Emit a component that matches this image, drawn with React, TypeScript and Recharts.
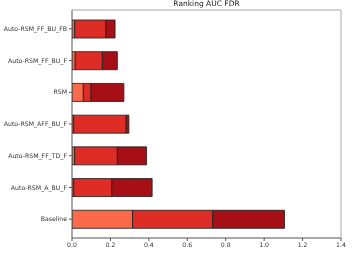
import { BarChart, Bar, XAxis, YAxis } from "recharts";

// categories, top to bottom
const METHODS = [
  "Auto-RSM_FF_BU_FB",
  "Auto-RSM_FF_BU_F",
  "RSM",
  "Auto-RSM_AFF_BU_F",
  "Auto-RSM_FF_TD_F",
  "Auto-RSM_A_BU_F",
  "Baseline",
];

// stacked segment lengths
const PART_A = [0.014, 0.017, 0.059, 0.009, 0.014, 0.009, 0.315];
const PART_B = [0.162, 0.141, 0.04, 0.273, 0.222, 0.198, 0.417];
const PART_C = [0.048, 0.078, 0.171, 0.014, 0.152, 0.21, 0.374];

const X_TICKS = [0, 0.2, 0.4, 0.6, 0.8, 1.0, 1.2, 1.4];

const COLORS = ["#fb6a4a", "#de2d26", "#a50f15"];

const data = METHODS.map((name, i) => ({
  name,
  a: PART_A[i],
  b: PART_B[i],
  c: PART_C[i],
}));

const tickStyle = { fontSize: 6.2, fill: "#333", fontFamily: "DejaVu Sans" };

export default function App() {
  return (
    <div style={{ position: "fixed", left: 0, top: 0, width: 359, height: 253, background: "#fff" }}>
      <div
        style={{
          position: "absolute",
          left: 72,
          width: 269,
          top: 0,
          lineHeight: "8px",
          textAlign: "center",
          fontFamily: "DejaVu Sans",
          fontSize: 7.5,
          color: "#222",
        }}
      >
        Ranking AUC FDR
      </div>
      <BarChart
        width={359}
        height={253}
        data={data}
        layout="vertical"
        margin={{ top: 9, right: 17, bottom: 0, left: 0 }}
      >
        <XAxis
          type="number"
          domain={[0, 1.4]}
          ticks={X_TICKS}
          tickFormatter={(v: number) => v.toFixed(1)}
          tick={tickStyle}
          tickSize={3}
          height={15}
          axisLine={{ stroke: "#555" }}
          tickLine={{ stroke: "#555" }}
          allowDataOverflow
        />
        <XAxis
          xAxisId="top"
          orientation="top"
          type="number"
          domain={[0, 1.4]}
          tick={false}
          tickLine={false}
          height={1}
          axisLine={{ stroke: "#aaa" }}
        />
        <YAxis
          type="category"
          dataKey="name"
          width={72}
          tick={tickStyle}
          tickSize={3}
          interval={0}
          padding={{ top: 3, bottom: 3 }}
          axisLine={{ stroke: "#555" }}
          tickLine={{ stroke: "#555" }}
        />
        <YAxis
          yAxisId="right"
          orientation="right"
          type="category"
          dataKey="name"
          width={1}
          tick={false}
          tickLine={false}
          axisLine={{ stroke: "#aaa" }}
        />
        <Bar dataKey="a" stackId="s" fill={COLORS[0]} stroke="#222" strokeOpacity={0.85} barSize={18} isAnimationActive={false} />
        <Bar dataKey="b" stackId="s" fill={COLORS[1]} stroke="#222" strokeOpacity={0.85} barSize={18} isAnimationActive={false} />
        <Bar dataKey="c" stackId="s" fill={COLORS[2]} stroke="#222" strokeOpacity={0.85} barSize={18} isAnimationActive={false} />
      </BarChart>
    </div>
  );
}
